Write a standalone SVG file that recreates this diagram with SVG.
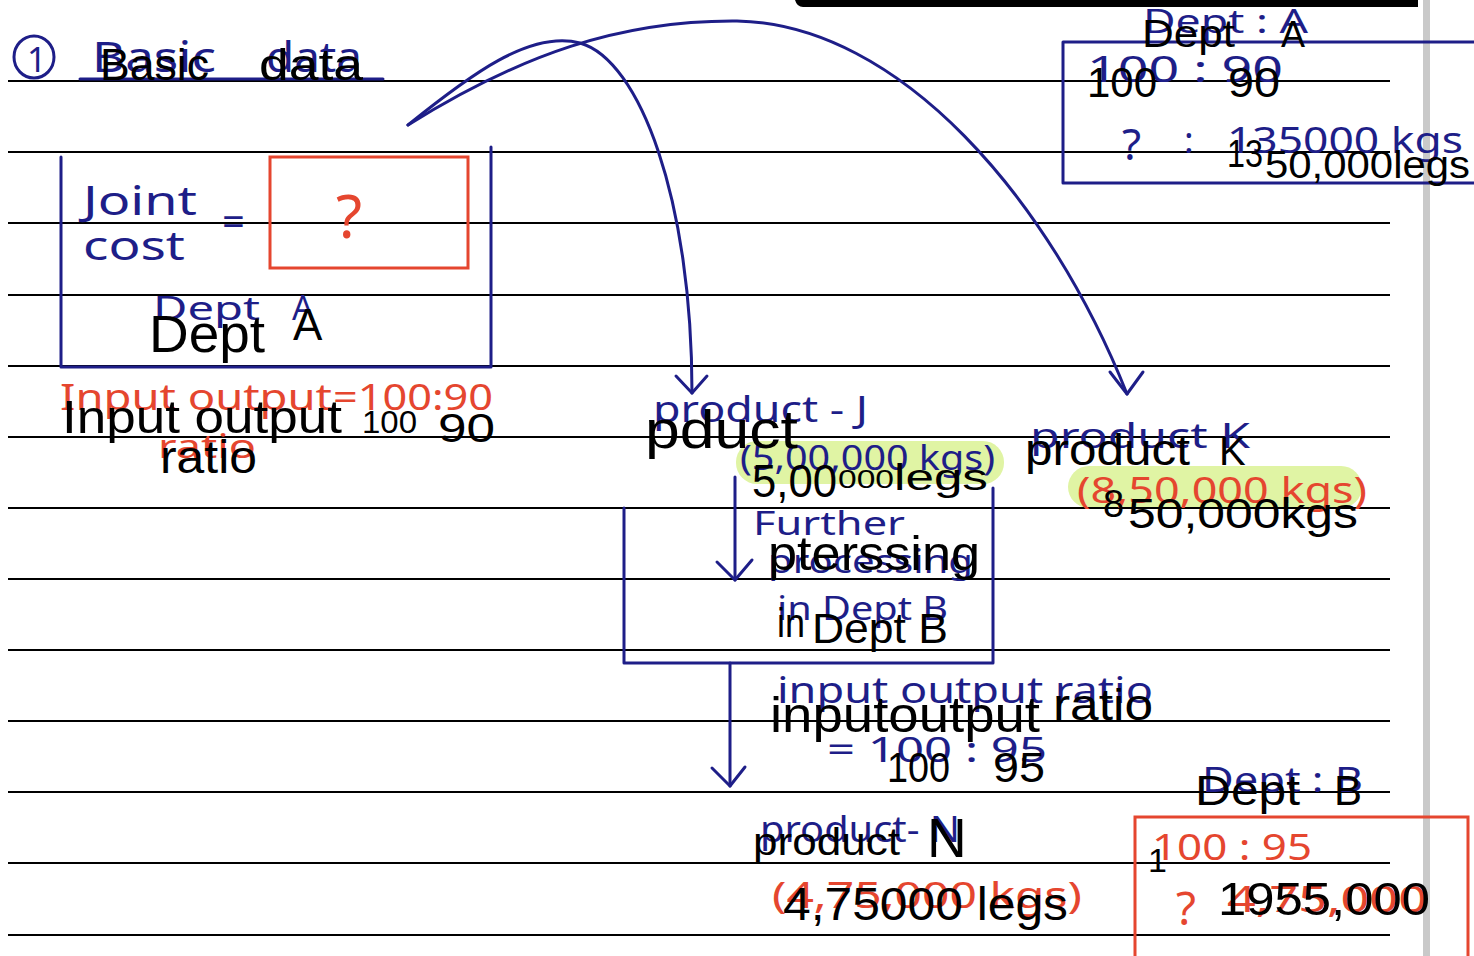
<svg xmlns="http://www.w3.org/2000/svg" width="1474" height="956" viewBox="0 0 1474 956">
<defs>
<style>
.rule{stroke:#000;stroke-width:2.2;fill:none}
.bl{stroke:#1e1e88;stroke-width:3;fill:none;stroke-linecap:round;stroke-linejoin:round}
.rd{stroke:#e5462f;stroke-width:3;fill:none}
.hl{fill:#e0f4a4}
.ocr{font-family:"Liberation Sans",Arial,sans-serif;fill:#000}
.hb{font-family:"Noto Sans","DejaVu Sans",sans-serif;fill:#1e1e88}
.hr{font-family:"Noto Sans","DejaVu Sans",sans-serif;fill:#e5462f}
</style>
</defs>
<rect width="1474" height="956" fill="#fff"/>
<!-- page chrome -->
<rect x="1423" y="0" width="7" height="956" fill="#c9c9c9"/>
<path d="M795,0 H1418 V7 H803 Q797,7 795,0 Z" fill="#000"/>

<!-- highlights -->
<g id="highlights">
<rect class="hl" x="736" y="441" width="268" height="43" rx="21"/>
<rect class="hl" x="1068" y="466" width="294" height="42" rx="21"/>
</g>

<!-- ruled lines -->
<g id="rules">
<line class="rule" x1="8" y1="81" x2="1390" y2="81"/>
<line class="rule" x1="8" y1="152" x2="1390" y2="152"/>
<line class="rule" x1="8" y1="223" x2="1390" y2="223"/>
<line class="rule" x1="8" y1="295" x2="1390" y2="295"/>
<line class="rule" x1="8" y1="366" x2="1390" y2="366"/>
<line class="rule" x1="8" y1="437" x2="1390" y2="437"/>
<line class="rule" x1="8" y1="508" x2="1390" y2="508"/>
<line class="rule" x1="8" y1="579" x2="1390" y2="579"/>
<line class="rule" x1="8" y1="650" x2="1390" y2="650"/>
<line class="rule" x1="8" y1="721" x2="1390" y2="721"/>
<line class="rule" x1="8" y1="792" x2="1390" y2="792"/>
<line class="rule" x1="8" y1="863" x2="1390" y2="863"/>
<line class="rule" x1="8" y1="935" x2="1390" y2="935"/>
</g>

<!-- heading -->
<g id="heading">
<ellipse class="bl" cx="34" cy="57" rx="20" ry="21"/>
<text class="hb" x="27" y="72" font-size="34">1</text>
<line class="bl" x1="80" y1="79" x2="383" y2="79"/>
<text class="hb" x="92" y="72" font-size="42" textLength="124" lengthAdjust="spacingAndGlyphs">Basic</text>
<text class="hb" x="266" y="72" font-size="42" textLength="96" lengthAdjust="spacingAndGlyphs">data</text>
<text class="ocr" x="100" y="80" font-size="45" textLength="109" lengthAdjust="spacingAndGlyphs">Basic</text>
<text class="ocr" x="259" y="80" font-size="45" textLength="104" lengthAdjust="spacingAndGlyphs">data</text>
</g>

<!-- joint cost node -->
<g id="joint-cost">
<path class="bl" d="M61,157 V367 H491 V147"/>
<rect class="rd" x="270" y="157" width="198" height="111"/>
<text class="hb" x="83" y="215" font-size="40" textLength="114" lengthAdjust="spacingAndGlyphs">Joint</text>
<text class="hb" x="83" y="260" font-size="40" textLength="102" lengthAdjust="spacingAndGlyphs">cost</text>
<text class="hb" x="222" y="236" font-size="40">=</text>
<text class="hr" x="336" y="238" font-size="60">?</text>
<text class="hb" x="153" y="320" font-size="32" textLength="107" lengthAdjust="spacingAndGlyphs">Dept</text>
<text class="hb" x="292" y="320" font-size="34">A</text>
<text class="ocr" x="149" y="352" font-size="51" textLength="116" lengthAdjust="spacingAndGlyphs">Dept</text>
<text class="ocr" x="293" y="340" font-size="44">A</text>
</g>

<!-- input output ratio A -->
<g id="ratio-a">
<text class="hr" x="60" y="410" font-size="36" textLength="272" lengthAdjust="spacingAndGlyphs">Input output</text>
<text class="hr" x="333" y="410" font-size="36" textLength="160" lengthAdjust="spacingAndGlyphs">=100:90</text>
<text class="hr" x="158" y="458" font-size="32" textLength="98" lengthAdjust="spacingAndGlyphs">ratio</text>
<text class="ocr" x="62" y="433" font-size="46" textLength="280" lengthAdjust="spacingAndGlyphs">Input output</text>
<text class="ocr" x="362" y="433" font-size="32" textLength="55" lengthAdjust="spacingAndGlyphs">100</text>
<text class="ocr" x="438" y="442" font-size="40" textLength="57" lengthAdjust="spacingAndGlyphs">90</text>
<text class="ocr" x="160" y="473" font-size="46" textLength="97" lengthAdjust="spacingAndGlyphs">ratio</text>
</g>

<!-- Dept A calc box -->
<g id="dept-a-calc">
<path class="bl" d="M1474,42 H1063 V183 H1474"/>
<text class="hb" x="1143" y="33" font-size="32" textLength="165" lengthAdjust="spacingAndGlyphs">Dept : A</text>
<text class="hb" x="1087" y="82" font-size="36" textLength="196" lengthAdjust="spacingAndGlyphs">100 : 90</text>
<text class="hb" x="1122" y="160" font-size="44">?</text>
<text class="hb" x="1184" y="153" font-size="36">:</text>
<text class="hb" x="1227" y="153" font-size="36" textLength="236" lengthAdjust="spacingAndGlyphs">135000 kgs</text>
<text class="ocr" x="1142" y="47" font-size="38" textLength="93" lengthAdjust="spacingAndGlyphs">Dept</text>
<text class="ocr" x="1281" y="47" font-size="36">A</text>
<text class="ocr" x="1087" y="97" font-size="42" textLength="70" lengthAdjust="spacingAndGlyphs">100</text>
<text class="ocr" x="1228" y="97" font-size="42" textLength="52" lengthAdjust="spacingAndGlyphs">90</text>
<text class="ocr" x="1227" y="167" font-size="38" textLength="36" lengthAdjust="spacingAndGlyphs">13</text>
<text class="ocr" x="1265" y="178" font-size="38" textLength="205" lengthAdjust="spacingAndGlyphs">50,000legs</text>
</g>

<!-- product J -->
<g id="product-j">
<text class="hb" x="653" y="422" font-size="36" textLength="215" lengthAdjust="spacingAndGlyphs">product - J</text>
<text class="hb" x="740" y="470" font-size="34" textLength="255" lengthAdjust="spacingAndGlyphs">(5,00,000 kgs)</text>
<text class="ocr" x="645" y="448" font-size="54" textLength="153" lengthAdjust="spacingAndGlyphs">pduct</text>
<text class="ocr" x="752" y="497" font-size="46" textLength="85" lengthAdjust="spacingAndGlyphs">5,00</text>
<text class="ocr" x="838" y="488" font-size="26" textLength="56" lengthAdjust="spacingAndGlyphs">000</text>
<text class="ocr" x="894" y="490" font-size="36" textLength="94" lengthAdjust="spacingAndGlyphs">legs</text>
</g>

<!-- further processing Dept B -->
<g id="processing-b">
<path class="bl" d="M624,508 V663 H993 V488"/>
<text class="hb" x="753" y="535" font-size="32" textLength="152" lengthAdjust="spacingAndGlyphs">Further</text>
<text class="hb" x="768" y="573" font-size="32" textLength="205" lengthAdjust="spacingAndGlyphs">processing</text>
<text class="hb" x="777" y="620" font-size="32" textLength="171" lengthAdjust="spacingAndGlyphs">in Dept B</text>
<text class="ocr" x="768" y="570" font-size="48" textLength="212" lengthAdjust="spacingAndGlyphs">pterssing</text>
<text class="ocr" x="777" y="637" font-size="40" textLength="28" lengthAdjust="spacingAndGlyphs">in</text>
<text class="ocr" x="812" y="643" font-size="42" textLength="136" lengthAdjust="spacingAndGlyphs">Dept B</text>
</g>

<!-- product K -->
<g id="product-k">
<text class="hb" x="1030" y="448" font-size="34" textLength="220" lengthAdjust="spacingAndGlyphs">product K</text>
<text class="hr" x="1077" y="503" font-size="36" textLength="290" lengthAdjust="spacingAndGlyphs">(8,50,000 kgs)</text>
<text class="ocr" x="1025" y="465" font-size="44" textLength="165" lengthAdjust="spacingAndGlyphs">product</text>
<text class="ocr" x="1219" y="465" font-size="40">K</text>
<text class="ocr" x="1103" y="517" font-size="38">8</text>
<text class="ocr" x="1128" y="528" font-size="42" textLength="230" lengthAdjust="spacingAndGlyphs">50,000kgs</text>
</g>

<!-- ratio B -->
<g id="ratio-b">
<text class="hb" x="777" y="703" font-size="36" textLength="376" lengthAdjust="spacingAndGlyphs">input output ratio</text>
<text class="hb" x="827" y="762" font-size="34" textLength="220" lengthAdjust="spacingAndGlyphs">= 100 : 95</text>
<text class="ocr" x="770" y="732" font-size="50" textLength="270" lengthAdjust="spacingAndGlyphs">inputoutput</text>
<text class="ocr" x="1053" y="720" font-size="44" textLength="100" lengthAdjust="spacingAndGlyphs">ratio</text>
<text class="ocr" x="887" y="782" font-size="42" textLength="63" lengthAdjust="spacingAndGlyphs">100</text>
<text class="ocr" x="993" y="782" font-size="42" textLength="52" lengthAdjust="spacingAndGlyphs">95</text>
</g>

<!-- product N -->
<g id="product-n">
<text class="hb" x="760" y="842" font-size="36" textLength="200" lengthAdjust="spacingAndGlyphs">product- N</text>
<text class="hr" x="772" y="908" font-size="36" textLength="310" lengthAdjust="spacingAndGlyphs">(4,75,000 kgs)</text>
<text class="ocr" x="753" y="855" font-size="38" textLength="147" lengthAdjust="spacingAndGlyphs">product</text>
<text class="ocr" x="927" y="857" font-size="55">N</text>
<text class="ocr" x="783" y="920" font-size="46" textLength="285" lengthAdjust="spacingAndGlyphs">4,75000 legs</text>
</g>

<!-- Dept B calc box -->
<g id="dept-b-calc">
<path class="rd" d="M1135,956 V817 H1468 V956"/>
<text class="hb" x="1202" y="792" font-size="34" textLength="161" lengthAdjust="spacingAndGlyphs">Dept : B</text>
<text class="hr" x="1152" y="860" font-size="36" textLength="160" lengthAdjust="spacingAndGlyphs">100 : 95</text>
<text class="hr" x="1176" y="925" font-size="46">?</text>
<text class="hr" x="1227" y="912" font-size="36" textLength="200" lengthAdjust="spacingAndGlyphs">4,75,000</text>
<text class="ocr" x="1195" y="805" font-size="42" textLength="105" lengthAdjust="spacingAndGlyphs">Dept</text>
<text class="ocr" x="1334" y="805" font-size="42">B</text>
<text class="ocr" x="1148" y="872" font-size="34">1</text>
<text class="ocr" x="1218" y="915" font-size="46" textLength="212" lengthAdjust="spacingAndGlyphs">1955,000</text>
</g>

<!-- connectors -->
<g id="connectors" class="bl">
<path d="M408,125 C470,75 530,30 580,43 C640,60 692,200 692,393"/>
<path d="M676,376 L692,393 L707,376"/>
<path d="M408,125 C520,55 620,20 737,21 C900,24 1050,200 1127,394"/>
<path d="M1110,372 L1127,394 L1143,372"/>
<path d="M735,477 V580"/>
<path d="M717,562 L735,580 L752,560"/>
<path d="M730,663 V786"/>
<path d="M712,768 L730,786 L745,767"/>
</g>
</svg>
